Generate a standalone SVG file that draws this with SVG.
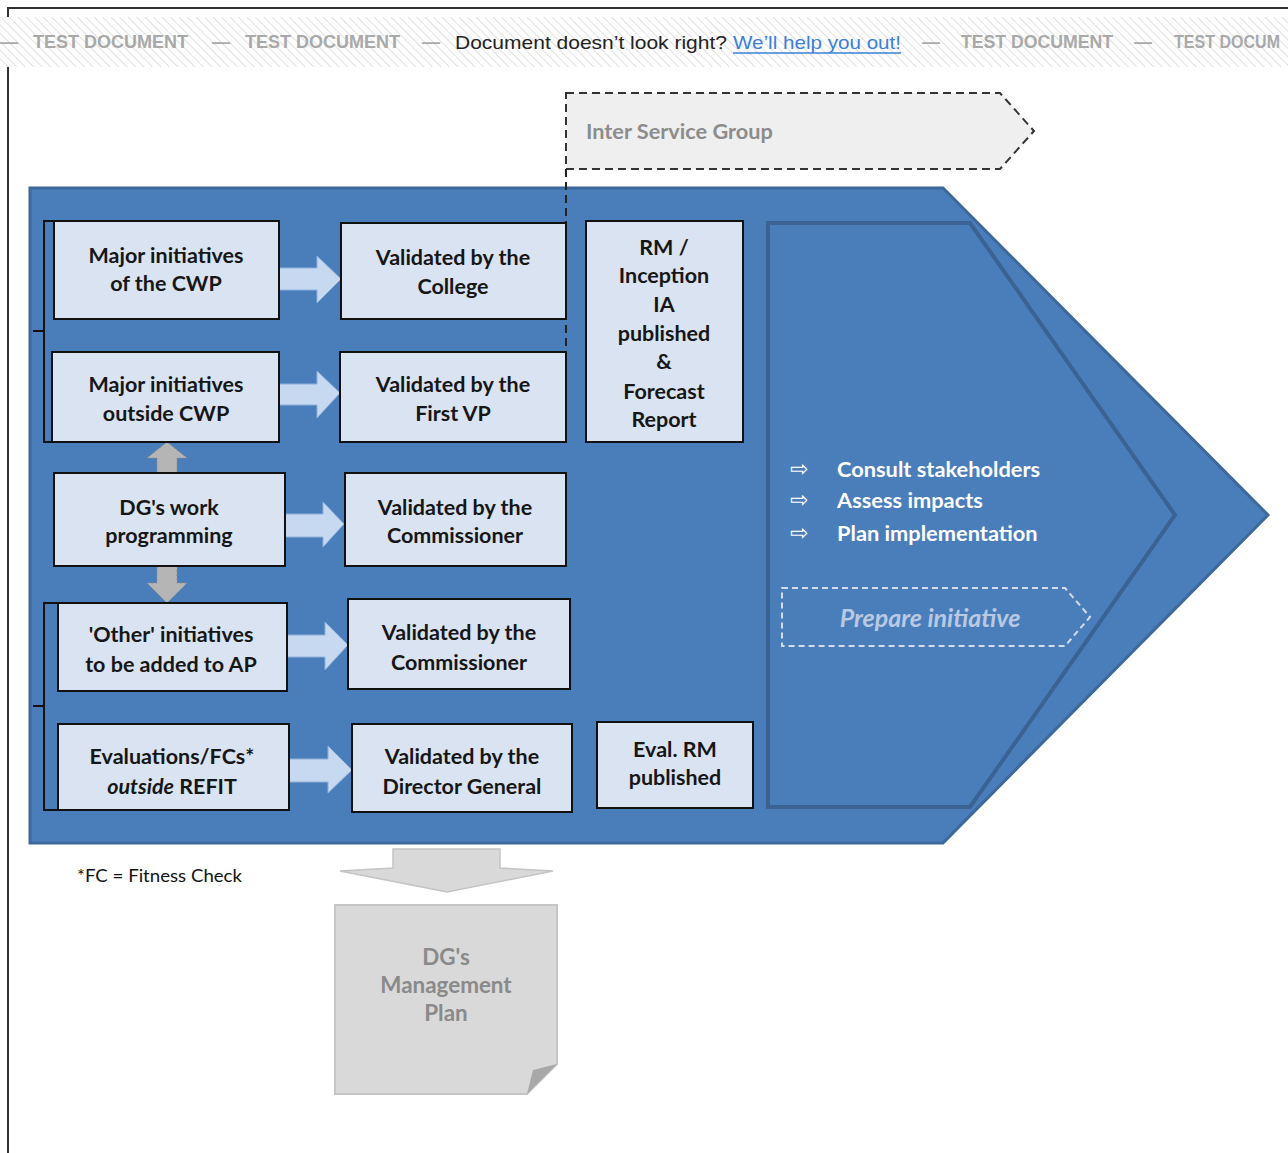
<svg xmlns="http://www.w3.org/2000/svg" width="1288" height="1153" viewBox="0 0 1288 1153">
<defs>
<pattern id="hatch" width="6" height="6" patternUnits="userSpaceOnUse" patternTransform="rotate(-45)">
<line x1="0" y1="0" x2="0" y2="6" stroke="#d2d2d2" stroke-width="1.4"/>
</pattern>
<style>
.box{fill:#dae3f1;stroke:#111;stroke-width:2}
.t{font-family:Lato,"Open Sans",sans-serif;font-weight:700;font-size:21.5px;fill:#161616;text-anchor:middle}
.barrow{fill:#c6d9f1;stroke:#8fb0d9;stroke-width:1}
.garrow{fill:#b5b5b5;stroke:#8c8c8c;stroke-width:1;stroke-dasharray:2 2}
.w{font-family:Lato,"Open Sans",sans-serif;font-weight:700;font-size:21.8px;fill:#fff}
.sym{font-family:"DejaVu Sans",sans-serif;font-size:22px;fill:#fff}
.ban{font-family:"Liberation Sans",Arial,sans-serif;font-size:19px}
.tdoc{font-family:"Liberation Sans",Arial,sans-serif;font-weight:700;font-size:18px;fill:#a9a9a9}
.g{font-family:Lato,"Open Sans",sans-serif;font-weight:700;font-size:22.4px;fill:#8a8a8a;text-anchor:middle}
</style>
</defs>
<rect width="1288" height="1153" fill="#fff"/>
<path d="M8,1153 V8 H1288" fill="none" stroke="#333" stroke-width="2"/>

<g id="banner">
<rect x="0" y="17" width="1288" height="50" fill="#fff"/>
<rect x="0" y="17" width="1288" height="50" fill="url(#hatch)"/>
<text class="tdoc" x="0" y="48">—</text>
<text class="tdoc" x="33" y="48" textLength="155" lengthAdjust="spacingAndGlyphs">TEST DOCUMENT</text>
<text class="tdoc" x="212" y="48">—</text>
<text class="tdoc" x="245" y="48" textLength="155" lengthAdjust="spacingAndGlyphs">TEST DOCUMENT</text>
<text class="tdoc" x="422" y="48">—</text>
<text class="ban" x="455" y="49" fill="#222" textLength="272" lengthAdjust="spacingAndGlyphs">Document doesn’t look right?</text>
<text class="ban" x="733" y="49" fill="#3b7fd9" textLength="168" lengthAdjust="spacingAndGlyphs">We’ll help you out!</text>
<line x1="733" y1="53" x2="901" y2="53" stroke="#3b7fd9" stroke-width="1.3"/>
<text class="tdoc" x="922" y="48">—</text>
<text class="tdoc" x="961" y="48" textLength="152" lengthAdjust="spacingAndGlyphs">TEST DOCUMENT</text>
<text class="tdoc" x="1134" y="48">—</text>
<text class="tdoc" x="1174" y="48" textLength="106" lengthAdjust="spacingAndGlyphs">TEST DOCUM</text>
</g>

<g id="inter-service-group">
<polygon points="566,93 1000,93 1034,131 1000,169 566,169" fill="#efefef" stroke="#333" stroke-width="2" stroke-dasharray="8 5"/>
<text x="586" y="139" font-family="Lato,'Open Sans',sans-serif" font-weight="700" font-size="21.7px" fill="#8c8c8c">Inter Service Group</text>
</g>

<g id="main-chevron">
<polygon points="30,188 943,188 1268,515 943,843 30,843" fill="#4a7ebb" stroke="#3d689c" stroke-width="3"/>
</g>
<g id="prepare-chevron">
<polygon points="768,223 970,223 1175,515 970,807 768,807" fill="#4a7ebb" stroke="#3a6394" stroke-width="4"/>
<text class="sym" x="790" y="476">⇨</text>
<text class="sym" x="790" y="507">⇨</text>
<text class="sym" x="790" y="540">⇨</text>
<text class="w" x="837" y="477">Consult stakeholders</text>
<text class="w" x="837" y="508">Assess impacts</text>
<text class="w" x="837" y="541">Plan implementation</text>
</g>
<g id="prepare-initiative">
<polygon points="782,588 1065,588 1090,617 1065,646 782,646" fill="none" stroke="#d4dceb" stroke-width="2" stroke-dasharray="6 4"/>
<text x="930" y="627" text-anchor="middle" font-family="Lato,'Open Sans',sans-serif" font-weight="700" font-style="italic" font-size="25px" fill="#b9c9e2">Prepare initiative</text>
</g>

<g id="connectors">
<path d="M54,221 H44 V442 H52 M44,331 H33" fill="none" stroke="#111" stroke-width="2"/>
<path d="M58,603 H44 V810 H58 M44,706 H33" fill="none" stroke="#111" stroke-width="2"/>
<polygon class="barrow" points="279,268 317,268 317,256 341,279 317,303 317,290 279,290"/>
<polygon class="barrow" points="279,384 317,384 317,371 340,393 317,418 317,405 279,405"/>
<polygon class="barrow" points="285,514 323,514 323,502 344,524 323,547 323,537 285,537"/>
<polygon class="barrow" points="287,635 325,635 325,622 348,645 325,670 325,657 287,657"/>
<polygon class="barrow" points="289,759 328,759 328,746 352,770 328,793 328,782 289,782"/>
<polygon class="garrow" points="167,442 187,458 177,458 177,473 157,473 157,458 147,458"/>
<polygon class="garrow" points="157,566 177,566 177,583 187,583 167,603 147,583 157,583"/>
<polygon points="393,849 500,849 500,868 553,871 447,892 340,871 393,868" fill="#d9d9d9" stroke="#c4c4c4" stroke-width="1.5"/>
<line x1="566" y1="169" x2="566" y2="442" stroke="#222" stroke-width="2" stroke-dasharray="8 5"/>
</g>

<g id="major-cwp"><rect class="box" x="54" y="221" width="225" height="98"/>
<text class="t" x="166" y="263">Major initiatives</text><text class="t" x="166" y="291">of the CWP</text></g>
<g id="val-college"><rect class="box" x="341" y="223" width="225" height="96"/>
<text class="t" x="453" y="265">Validated by the</text><text class="t" x="453" y="294">College</text></g>
<g id="major-outside"><rect class="box" x="52" y="352" width="227" height="90"/>
<text class="t" x="166" y="392">Major initiatives</text><text class="t" x="166" y="421">outside CWP</text></g>
<g id="val-firstvp"><rect class="box" x="340" y="352" width="226" height="90"/>
<text class="t" x="453" y="392">Validated by the</text><text class="t" x="453" y="421">First VP</text></g>
<g id="rm-inception"><rect class="box" x="586" y="221" width="157" height="221"/>
<text class="t" x="664" y="255">RM /</text><text class="t" x="664" y="283">Inception</text><text class="t" x="664" y="312">IA</text><text class="t" x="664" y="341">published</text><text class="t" x="664" y="369">&amp;</text><text class="t" x="664" y="399">Forecast</text><text class="t" x="664" y="427">Report</text></g>
<g id="dg-work"><rect class="box" x="54" y="473" width="231" height="93"/>
<text class="t" x="169" y="515">DG's work</text><text class="t" x="169" y="543">programming</text></g>
<g id="val-comm1"><rect class="box" x="345" y="473" width="221" height="93"/>
<text class="t" x="455" y="515">Validated by the</text><text class="t" x="455" y="543">Commissioner</text></g>
<g id="other-init"><rect class="box" x="58" y="603" width="229" height="88"/>
<text class="t" x="171" y="642">'Other' initiatives</text><text class="t" x="171" y="672">to be added to AP</text></g>
<g id="val-comm2"><rect class="box" x="348" y="599" width="222" height="90"/>
<text class="t" x="459" y="640">Validated by the</text><text class="t" x="459" y="670">Commissioner</text></g>
<g id="evaluations"><rect class="box" x="58" y="724" width="231" height="86"/>
<text class="t" x="172" y="764">Evaluations/FCs*</text><text class="t" x="172" y="794"><tspan font-style="italic">outside</tspan> REFIT</text></g>
<g id="val-dg"><rect class="box" x="352" y="724" width="220" height="88"/>
<text class="t" x="462" y="764">Validated by the</text><text class="t" x="462" y="794">Director General</text></g>
<g id="eval-rm"><rect class="box" x="597" y="722" width="156" height="86"/>
<text class="t" x="675" y="757">Eval. RM</text><text class="t" x="675" y="785">published</text></g>

<g id="footnote"><text x="77" y="882" font-family="Lato,'Open Sans',sans-serif" font-size="18px" fill="#111" textLength="165" lengthAdjust="spacingAndGlyphs">*FC = Fitness Check</text></g>

<g id="management-plan">
<path d="M335,905 H557 V1064 L527,1094 H335 Z" fill="#d9d9d9" stroke="#c6c6c6" stroke-width="2"/>
<path d="M557,1064 L527,1094 L533,1070 Z" fill="#a8a8a8"/>
<text class="g" x="446" y="965">DG's</text><text class="g" x="446" y="993">Management</text><text class="g" x="446" y="1021">Plan</text>
</g>
</svg>
